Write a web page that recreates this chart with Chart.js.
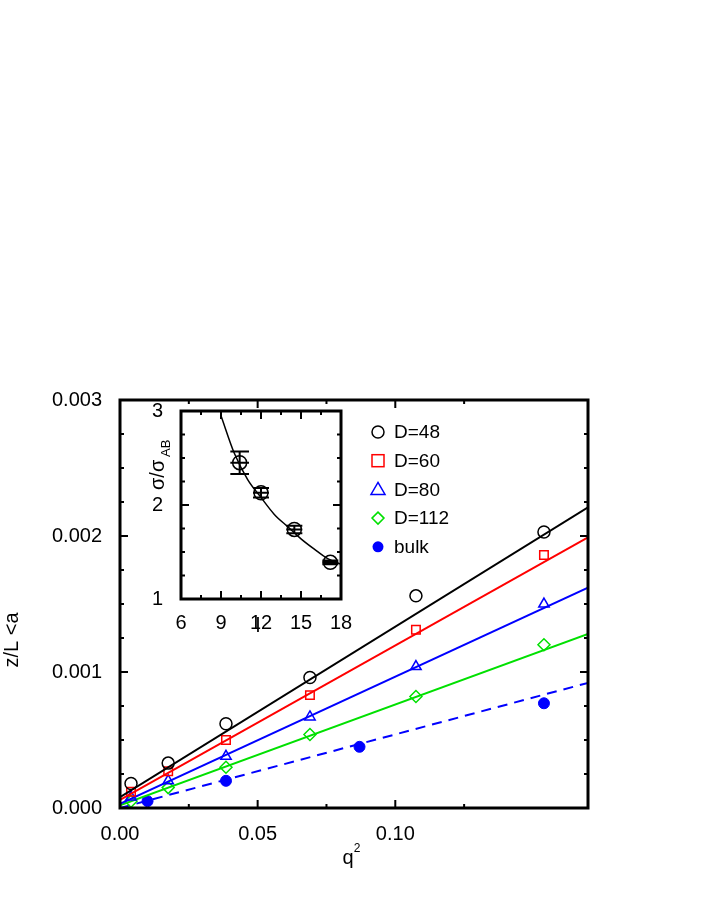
<!DOCTYPE html><html><head><script src="https://cdn.jsdelivr.net/npm/chart.js@4"></script>
<style>body{margin:0;background:#fff}canvas{position:absolute;left:0;top:0}</style></head><body>
<canvas id="m" width="708" height="917"></canvas><canvas id="i" width="708" height="917"></canvas>
<script>
const q2 = [0.004, 0.0175, 0.0385, 0.069, 0.1075, 0.154];
const d48 = [0.00018, 0.00033, 0.00062, 0.00096, 0.00156, 0.00203];
const d60 = [0.00012, 0.00027, 0.00050, 0.00083, 0.00131, 0.00186];
const d80 = [0.00008, 0.00020, 0.00038, 0.00067, 0.00104, 0.00150];
const d112 = [0.00005, 0.00015, 0.00030, 0.00054, 0.00082, 0.00120];
const bulkX = [0.010, 0.0385, 0.087, 0.154];
const bulkY = [0.00005, 0.00020, 0.00045, 0.00077];
const fitX = [0, 0.17];
const fit48 = [0.00008, 0.00221];
const fit60 = [0.00006, 0.00199];
const fit80 = [0.00003, 0.00162];
const fit112 = [0.00002, 0.00128];
const fitBulk = [0.0, 0.00092];
const names = ['D=48','D=60','D=80','D=112','bulk'];
const colors = ['#000000','#ff0000','#0000ff','#00e000','#0000ff'];
const shapes = ['circle','rect','triangle','rectRot','circle'];
const insL = [10.4, 12.0, 14.5, 17.2];
const insS = [2.45, 2.13, 1.74, 1.39];
const insXe = [0.7, 0.6, 0.6, 0.6];
const insYe = [0.12, 0.05, 0.04, 0.02];
const curveL = [9, 10, 11, 12, 13, 14, 15, 16, 17, 18];
const curveS = [2.95, 2.55, 2.27, 2.08, 1.90, 1.77, 1.64, 1.53, 1.43, 1.37];

const F = '"Liberation Sans", Arial, sans-serif';
const pts = (xs, ys) => xs.map((x, k) => ({x, y: ys[k]}));
function tickPlugin(){return {id:'tk',afterDraw(c){const g=c.ctx,a=c.chartArea,sx=c.scales.x,sy=c.scales.y;g.save();g.strokeStyle='#000';g.lineWidth=2;
 const L=8,l=4;
 sx.ticks.forEach(t=>{const p=sx.getPixelForValue(t.value);const len=t.label===''?l:L;g.beginPath();g.moveTo(p,a.bottom);g.lineTo(p,a.bottom-len);g.moveTo(p,a.top);g.lineTo(p,a.top+len);g.stroke();});
 sy.ticks.forEach(t=>{const p=sy.getPixelForValue(t.value);const len=t.label===''?l:L;g.beginPath();g.moveTo(a.left,p);g.lineTo(a.left+len,p);g.moveTo(a.right,p);g.lineTo(a.right-len,p);g.stroke();});
 g.lineWidth=3;g.strokeRect(a.left,a.top,a.right-a.left,a.bottom-a.top);g.restore();}};}

const mds = [];
const sets=[d48,d60,d80,d112];const fits=[fit48,fit60,fit80,fit112];
sets.forEach((s,k)=>{mds.push({data:pts(q2,s),showLine:false,pointStyle:shapes[k],pointRadius:6,pointBorderColor:colors[k],pointBackgroundColor:'transparent',pointBorderWidth:1.5});
 mds.push({data:pts(fitX,fits[k]),showLine:true,borderColor:colors[k],borderWidth:2,pointRadius:0});});
mds.push({data:pts(bulkX,bulkY),showLine:false,pointStyle:'circle',pointRadius:5.5,pointBackgroundColor:colors[4],pointBorderColor:colors[4]});
mds.push({data:pts(fitX,fitBulk),showLine:true,borderColor:colors[4],borderWidth:2,borderDash:[10,7],pointRadius:0});

new Chart(document.getElementById('m'),{type:'scatter',data:{datasets:mds},options:{animation:false,responsive:false,
 layout:{padding:{left:0,top:400,right:120,bottom:0}},
 plugins:{legend:{display:false},tooltip:{enabled:false}},
 scales:{x:{min:0,max:0.17,afterFit:s=>{s.height=109;},grid:{display:false},border:{display:false},
  ticks:{stepSize:0.025,autoSkip:false,maxRotation:0,color:'#000',font:{family:F,size:20},padding:6,callback:v=>{const r=Math.round(v*1000);return r%50===0?(v).toFixed(2):'';}}},
  y:{min:0,max:0.003,afterFit:s=>{s.width=120;},grid:{display:false},border:{display:false},
  ticks:{stepSize:0.00025,autoSkip:false,color:'#000',font:{family:F,size:20},padding:10,callback:v=>{const r=Math.round(v*1e5);return r%100===0?v.toFixed(3):'';}}}}},
 plugins:[tickPlugin(),{id:'leg',afterDraw(c){const g=c.ctx;g.save();g.font='19px '+F;g.textBaseline='middle';
  names.forEach((n,k)=>{const y=432+k*28.7,x=378;g.strokeStyle=colors[k];g.fillStyle=colors[k];g.lineWidth=1.5;g.beginPath();
   if(k===0){g.arc(x,y,6,0,7);g.stroke();}else if(k===1){g.strokeRect(x-6,y-6,12,12);}else if(k===2){g.moveTo(x,y-7);g.lineTo(x+7,y+5);g.lineTo(x-7,y+5);g.closePath();g.stroke();}
   else if(k===3){g.moveTo(x,y-6);g.lineTo(x+6,y);g.lineTo(x,y+6);g.lineTo(x-6,y);g.closePath();g.stroke();}else{g.arc(x,y,5.5,0,7);g.fill();}
   g.fillStyle='#000';g.fillText(n,394,y+1);});
  g.font='20px '+F;g.textAlign='center';g.fillText('q',348,858);g.font='12px '+F;g.fillText('2',357,849);
  g.translate(12,640);g.rotate(-Math.PI/2);g.font='20px '+F;g.fillText('z/L <a',0,0);g.restore();}}]});

const ids=[{data:pts(insL,insS),showLine:false,pointStyle:'circle',pointRadius:7,pointBorderColor:'#000',pointBackgroundColor:'transparent',pointBorderWidth:1.5},
 {data:pts(curveL,curveS),showLine:true,borderColor:'#000',borderWidth:1.5,pointRadius:0,tension:0.4,cubicInterpolationMode:'monotone'}];
new Chart(document.getElementById('i'),{type:'scatter',data:{datasets:ids},options:{animation:false,responsive:false,
 layout:{padding:{left:0,top:411,right:708-341,bottom:0}},
 plugins:{legend:{display:false},tooltip:{enabled:false}},
 scales:{x:{min:6,max:18,afterFit:s=>{s.height=917-599;},grid:{display:false},border:{display:false},
  ticks:{stepSize:1.5,autoSkip:false,maxRotation:0,color:'#000',font:{family:F,size:20},padding:4,callback:v=>(v%3===0?String(v):'')}},
  y:{min:1,max:3,afterFit:s=>{s.width=181;},grid:{display:false},border:{display:false},
  ticks:{stepSize:0.25,autoSkip:false,color:'#000',font:{family:F,size:20},padding:10,callback:v=>(v%1===0?String(v):'')}}}},
 plugins:[tickPlugin(),{id:'eb',afterDatasetsDraw(c){const g=c.ctx,sx=c.scales.x,sy=c.scales.y;g.save();g.strokeStyle='#000';g.lineWidth=2;
  insL.forEach((x,k)=>{const px=sx.getPixelForValue(x),py=sy.getPixelForValue(insS[k]);const x1=sx.getPixelForValue(x-insXe[k]),x2=sx.getPixelForValue(x+insXe[k]);
   const y1=sy.getPixelForValue(insS[k]+insYe[k]),y2=sy.getPixelForValue(insS[k]-insYe[k]);
   g.beginPath();g.moveTo(x1,py);g.lineTo(x2,py);g.moveTo(px,y1);g.lineTo(px,y2);
   g.moveTo(x1,y1);g.lineTo(x2,y1);g.moveTo(x1,y2);g.lineTo(x2,y2);g.stroke();});
  g.fillStyle='#000';g.font='20px '+F;g.textAlign='center';g.fillText('l',258,632);
  g.translate(164,490);g.rotate(-Math.PI/2);g.textAlign='left';g.fillText('σ/σ',0,0);g.font='13px '+F;g.fillText('AB',33,6);g.restore();}}]});
</script></body></html>
